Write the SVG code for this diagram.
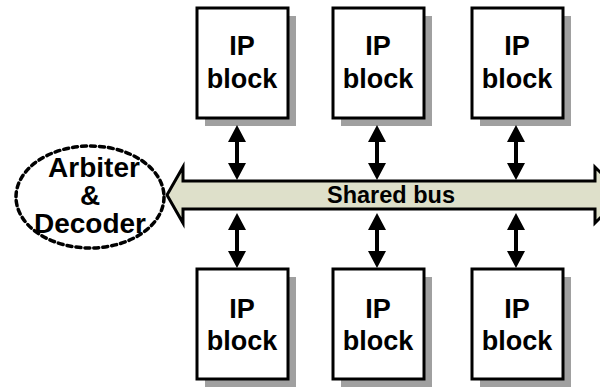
<svg xmlns="http://www.w3.org/2000/svg" width="600" height="387" viewBox="0 0 600 387">
<defs>
<style>
.blk{fill:#fff;stroke:#000;stroke-width:3}
.shd{fill:#a0a0a0}
.t{font-family:"Liberation Sans",Arial,sans-serif;font-weight:bold;font-size:27px;fill:#000;text-anchor:middle}
.a{font-size:28px}
.bus{fill:#dee0ca;stroke:#000;stroke-width:3;stroke-linejoin:miter}
.arr{fill:#000}
</style>
<polygon id="dbl" class="arr" points="0,0 9,17 2,17 2,38 9,38 0,55 -9,38 -2,38 -2,17 -9,17"/>
</defs>
<rect width="600" height="387" fill="#fff"/>
<g id="bus">
<polygon class="bus" points="167,195 183,167 183,181 595,181 595,167 623,195 595,223 595,209 183,209 183,223"/>
<text class="t" x="391" y="203" style="font-size:23.5px">Shared bus</text>
</g>
<g id="arbiter">
<ellipse cx="90" cy="197" rx="74" ry="51" fill="none" stroke="#000" stroke-width="3.5" stroke-dasharray="5 4" stroke-linecap="round"/>
<text class="t a" x="94" y="177">Arbiter</text>
<text class="t a" x="90" y="205">&amp;</text>
<text class="t a" x="90" y="233">Decoder</text>
</g>
<g id="ip-top-1">
<rect class="shd" x="205" y="16" width="91" height="110"/>
<rect class="blk" x="197" y="8" width="91" height="110"/>
<text class="t" x="242" y="55">IP</text>
<text class="t" x="242" y="88">block</text>
</g>
<g id="ip-top-2">
<rect class="shd" x="341" y="16" width="91" height="110"/>
<rect class="blk" x="333" y="8" width="91" height="110"/>
<text class="t" x="378" y="55">IP</text>
<text class="t" x="378" y="88">block</text>
</g>
<g id="ip-top-3">
<rect class="shd" x="480" y="16" width="91" height="110"/>
<rect class="blk" x="472" y="8" width="91" height="110"/>
<text class="t" x="517" y="55">IP</text>
<text class="t" x="517" y="88">block</text>
</g>
<g id="ip-bot-1">
<rect class="shd" x="205" y="277" width="91" height="110"/>
<rect class="blk" x="197" y="269" width="91" height="110"/>
<text class="t" x="242" y="318">IP</text>
<text class="t" x="242" y="350">block</text>
</g>
<g id="ip-bot-2">
<rect class="shd" x="341" y="277" width="91" height="110"/>
<rect class="blk" x="333" y="269" width="91" height="110"/>
<text class="t" x="378" y="318">IP</text>
<text class="t" x="378" y="350">block</text>
</g>
<g id="ip-bot-3">
<rect class="shd" x="480" y="277" width="91" height="110"/>
<rect class="blk" x="472" y="269" width="91" height="110"/>
<text class="t" x="517" y="318">IP</text>
<text class="t" x="517" y="350">block</text>
</g>
<g id="connectors">
<use href="#dbl" x="237" y="125"/>
<use href="#dbl" x="377" y="125"/>
<use href="#dbl" x="516" y="125"/>
<use href="#dbl" x="237" y="213"/>
<use href="#dbl" x="377" y="213"/>
<use href="#dbl" x="516" y="213"/>
</g>
</svg>
